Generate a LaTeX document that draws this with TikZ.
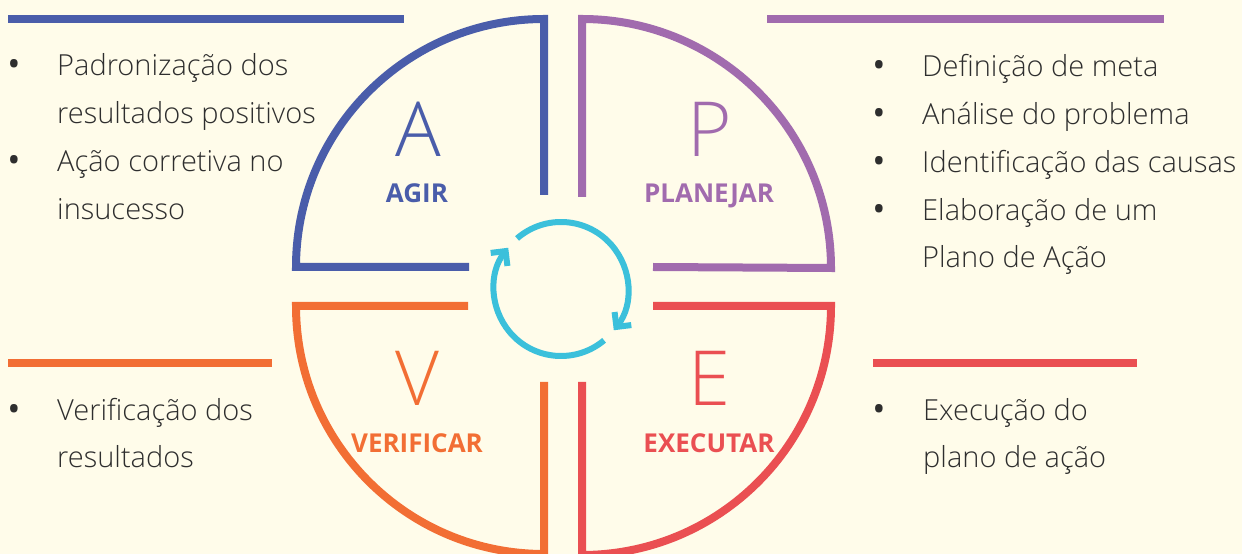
\documentclass[tikz,border=0pt]{standalone}
\usepackage{fontspec}
\usetikzlibrary{arrows.meta}
\setmainfont{Open Sans}
\IfFontExistsTF{Open Sans Light}{\newfontfamily\lightfont{Open Sans Light}}{\newfontfamily\lightfont{Open Sans}}
\newfontfamily\boldfont{Open Sans}[UprightFont={* Bold}]
\definecolor{bgc}{HTML}{FFFCEA}
\definecolor{cblue}{HTML}{4A5DAA}
\definecolor{cpurple}{HTML}{A16BAE}
\definecolor{corange}{HTML}{F26E34}
\definecolor{cred}{HTML}{EA4F52}
\definecolor{ccyan}{HTML}{3BC0DB}
\definecolor{ctext}{HTML}{2E2E2E}
\begin{document}
\begin{tikzpicture}[x=1pt,y=1pt,
  quad/.style={line width=8pt, miter limit=10},
  rule/.style={line width=8pt},
  body/.style={anchor=base west, inner sep=0pt, text=ctext, font=\lightfont\fontsize{29}{36}\selectfont},
  bul/.style={anchor=base, inner sep=0pt, text=ctext, yshift=-1pt, font=\rmfamily\fontsize{35}{35}\selectfont},
  big/.style={anchor=base, inner sep=0pt, font=\lightfont\fontsize{76}{80}\selectfont},
  lbl/.style={anchor=base, inner sep=0pt, font=\boldfont\fontsize{26}{30}\selectfont},
  cyc/.style={draw=ccyan, line width=6pt},
  tip/.style={-{Straight Barb[angle=90:15pt, line width=6pt]}}
]
\useasboundingbox[fill=bgc] (0,0) rectangle (1242,554);
% quadrants
\draw[quad, cblue] (469,287) -- (296,287) arc[start angle=180, end angle=90, radius=248] -- (544,359);
\draw[quad, cpurple] (582,357) -- (582,535) arc[start angle=90, end angle=0, radius=249] -- (653,287);
\draw[quad, corange] (468,248) -- (296,248) arc[start angle=180, end angle=270, radius=248] -- (544,172);
\draw[quad, cred] (653,248) -- (831,248) arc[start angle=0, end angle=-90, radius=249] -- (582,172);
% rules
\coordinate (r1a) at (8,535); \coordinate (r1b) at (404,535);
\coordinate (r2a) at (767,535); \coordinate (r2b) at (1164,535);
\coordinate (r3a) at (8,191); \coordinate (r3b) at (272,191);
\coordinate (r4a) at (873,191); \coordinate (r4b) at (1137,191);
\draw[rule, cblue] (r1a) -- (r1b);
\draw[rule, cpurple] (r2a) -- (r2b);
\draw[rule, corange] (r3a) -- (r3b);
\draw[rule, cred] (r4a) -- (r4b);
% cycle
\coordinate (cc) at (561,265);
\draw[cyc, tip] ([shift={(131:67)}]cc) arc[start angle=131, end angle=-38, radius=67];
\draw[cyc, tip] ([shift={(-50:67)}]cc) arc[start angle=-50, end angle=-218, radius=67];
% letters
\node[big, text=cblue] (bA) at (418,397) {A};
\node[big, text=cpurple] (bP) at (710,397) {P};
\node[big, text=corange] (bV) at (417,148) {V};
\node[big, text=cred] (bE) at (709,148) {E};
\node[lbl, text=cblue] (lA) at (417,351) {AGIR};
\node[lbl, text=cpurple] (lP) at (709,351) {PLANEJAR};
\node[lbl, text=corange] (lV) at (417,101) {VERIFICAR};
\node[lbl, text=cred] (lE) at (709,101) {EXECUTAR};
% left top text
\node[bul] (lb1) at (14,478) {•};
\node[body] (lt1) at (57,478) {Padronização dos};
\node[body] (lt2) at (57,430) {resultados positivos};
\node[bul] (lb2) at (14,382) {•};
\node[body] (lt3) at (57,382) {Ação corretiva no};
\node[body] (lt4) at (57,334) {insucesso};
% right top text
\node[bul] (rb1) at (879,477) {•};
\node[body] (rt1) at (922,477) {Definição de meta};
\node[bul] (rb2) at (879,429) {•};
\node[body] (rt2) at (922,429) {Análise do problema};
\node[bul] (rb3) at (879,381) {•};
\node[body] (rt3) at (922,381) {Identificação das causas};
\node[bul] (rb4) at (879,333) {•};
\node[body] (rt4) at (922,333) {Elaboração de um};
\node[body] (rt5) at (922,286) {Plano de Ação};
% bottom left
\node[bul] (vb1) at (14,133) {•};
\node[body] (vt1) at (57,133) {Verificação dos};
\node[body] (vt2) at (57,86) {resultados};
% bottom right
\node[bul] (eb1) at (879,133) {•};
\node[body] (et1) at (923,133) {Execução do};
\node[body] (et2) at (923,86) {plano de ação};
\end{tikzpicture}
\end{document}
